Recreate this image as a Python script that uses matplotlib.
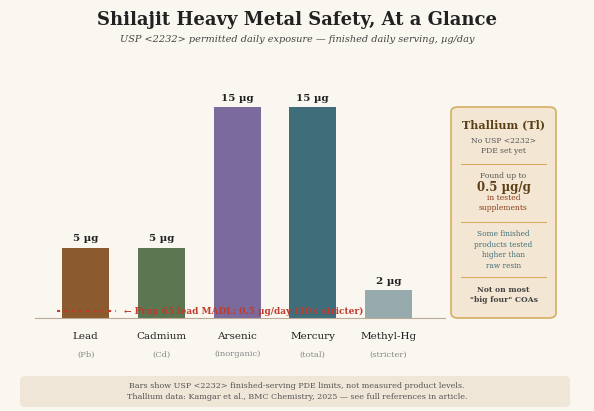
import matplotlib
matplotlib.use("Agg")
import matplotlib.pyplot as plt
from matplotlib.patches import FancyBboxPatch

metals = ["Lead", "Cadmium", "Arsenic", "Mercury", "Methyl-Hg"]
subs = ["(Pb)", "(Cd)", "(inorganic)", "(total)", "(stricter)"]
values = [5, 5, 15, 15, 2]
labels = ["5 µg", "5 µg", "15 µg", "15 µg", "2 µg"]
colors = ["#8B5A2E", "#5C7652", "#7B6A9C", "#3F6D7A", "#97ABAE"]
madl = 0.5

plt.rcParams['font.family'] = ['DejaVu Serif']
W, H = 594, 411
fig = plt.figure(figsize=(W/100, H/100), dpi=100, facecolor="#FAF7F1")

def fx(px): return px / W
def fy(py): return 1 - py / H

ax = fig.add_axes([fx(35), fy(318), fx(410), (318-100)/H])
ax.set_facecolor("none")
ax.set_xlim(-0.671, 4.748)
ax.set_ylim(0, 15.5)
x = range(len(metals))
ax.bar(x, values, width=0.62, color=colors)
for i, v in enumerate(values):
    ax.text(i, v + 0.3, labels[i], ha="center", va="bottom", fontsize=7.5, fontweight="bold", color="#222")
for s in ["top", "right", "left"]:
    ax.spines[s].set_visible(False)
ax.spines["bottom"].set_color("#BBAA95")
ax.set_yticks([])
ax.set_xticks([])
for i in x:
    ax.text(i, -1.0, metals[i], ha="center", va="top", fontsize=7.5, color="#222")
    ax.text(i, -2.3, subs[i], ha="center", va="top", fontsize=6, color="#888")
ax.plot([-0.38, 0.4], [madl, madl], ls=(0, (1.5, 2)), color="#C0392B", lw=1.5)
ax.text(0.5, madl, "← Prop 65 lead MADL: 0.5 µg/day (10× stricter)", ha="left", va="center",
        fontsize=6.5, fontweight="bold", color="#C0392B")

fig.text(0.5, fy(20), "Shilajit Heavy Metal Safety, At a Glance", ha="center", va="center",
         fontsize=13, fontweight="bold", color="#222")
fig.text(0.5, fy(40), "USP <2232> permitted daily exposure — finished daily serving, µg/day",
         ha="center", va="center", fontsize=7, style="italic", color="#444")

# Thallium box
fig.patches.append(FancyBboxPatch((fx(451), fy(318)), fx(105), (318-107)/H,
                   boxstyle="round,pad=0,rounding_size=0.012", transform=fig.transFigure,
                   facecolor="#F3E7D3", edgecolor="#D6AC62", lw=1.2))
cx = fx(503.5)
fig.text(cx, fy(125), "Thallium (Tl)", ha="center", va="center", fontsize=8, fontweight="bold", color="#5A3E16")
fig.text(cx, fy(146), "No USP <2232>\nPDE set yet", ha="center", va="center", fontsize=5.5, color="#555", linespacing=1.3)
for py in [164, 222, 277]:
    fig.add_artist(plt.Line2D([fx(461), fx(546)], [fy(py), fy(py)], color="#D6AC62", lw=0.8))
fig.text(cx, fy(176), "Found up to", ha="center", va="center", fontsize=5.5, color="#555")
fig.text(cx, fy(187), "0.5 µg/g", ha="center", va="center", fontsize=8.5, fontweight="bold", color="#5A3E16")
fig.text(cx, fy(203), "in tested\nsupplements", ha="center", va="center", fontsize=5.5, color="#8B3A1A", linespacing=1.3)
fig.text(cx, fy(250), "Some finished\nproducts tested\nhigher than\nraw resin", ha="center", va="center",
         fontsize=5.3, color="#3F6D7A", linespacing=1.45)
fig.text(cx, fy(295), "Not on most\n\"big four\" COAs", ha="center", va="center", fontsize=5.5,
         fontweight="bold", color="#444", linespacing=1.4)

# footer
fig.patches.append(FancyBboxPatch((fx(20), fy(407)), fx(550), 31/H,
                   boxstyle="round,pad=0,rounding_size=0.01", transform=fig.transFigure,
                   facecolor="#F0E6D8", edgecolor="none"))
fig.text(0.5, fy(391), "Bars show USP <2232> finished-serving PDE limits, not measured product levels.\n"
         "Thallium data: Kamgar et al., BMC Chemistry, 2025 — see full references in article.",
         ha="center", va="center", fontsize=5.8, color="#555", linespacing=1.5)

fig.savefig("out.png", dpi=100, facecolor=fig.get_facecolor())
